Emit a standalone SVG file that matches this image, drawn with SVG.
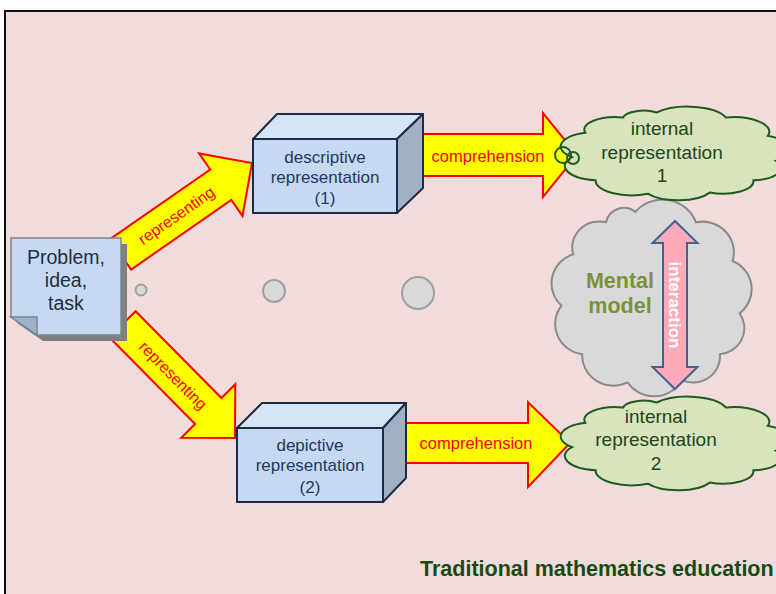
<svg xmlns="http://www.w3.org/2000/svg" xmlns:xlink="http://www.w3.org/1999/xlink" width="776" height="594" viewBox="0 0 776 594">
  <style>
    .bg { fill: #f2dcdb; stroke: #111; stroke-width: 2; }
    .dot { fill: #d9d9d9; stroke: #a0a0a0; stroke-width: 2; }
    .fat-arrow { fill: #ffff00; stroke: #ff0000; stroke-width: 2; stroke-linejoin: miter; }
    .arrow-label { font-family: "Liberation Sans", Arial, sans-serif; fill: #ff0000; text-anchor: middle; }
    .box-front { fill: #c6d9f1; stroke: #1b2c48; stroke-width: 2; stroke-linejoin: round; }
    .box-top { fill: #d5e3f6; stroke: #1b2c48; stroke-width: 2; stroke-linejoin: round; }
    .box-side { fill: #a2b0c4; stroke: #1b2c48; stroke-width: 2; stroke-linejoin: round; }
    .box-text { font-family: "Liberation Sans", Arial, sans-serif; font-size: 17px; fill: #1f3864; text-anchor: middle; }
    .note { fill: #c6d9f1; stroke: #7a8599; stroke-width: 1.5; }
    .note-shadow { fill: #7f7f7f; }
    .note-flap { fill: #a0b2ca; stroke: #7a8599; stroke-width: 1.5; }
    .note-text { font-family: "Liberation Sans", Arial, sans-serif; font-size: 19.5px; fill: #1f2d45; text-anchor: middle; }
    .cloud-green { fill: #d7e4bd; stroke: #1f5a1f; }
    .cloud-gray { fill: #d9d9d9; stroke: #8a8a8a; }
    .cloud-text { font-family: "Liberation Sans", Arial, sans-serif; font-size: 19px; fill: #1e4620; text-anchor: middle; }
    .model-text { font-family: "Liberation Sans", Arial, sans-serif; font-size: 21.5px; font-weight: bold; fill: #77933c; text-anchor: middle; }
    .interaction { fill: #ffaabb; stroke: #3d6390; stroke-width: 2; stroke-linejoin: miter; }
    .interaction-text { font-family: "Liberation Sans", Arial, sans-serif; font-size: 17px; font-weight: bold; fill: #ffffff; text-anchor: middle; }
    .title { font-family: "Liberation Sans", Arial, sans-serif; font-size: 21.5px; font-weight: bold; fill: #174a17; }
  </style>
  <defs>
    <!-- generic cloud outline in a 100x100 box -->
    <path id="cloud" vector-effect="non-scaling-stroke" stroke-width="2"
          d="M42.7,8.6 A16.6,16.6 0 0 1 71,13.6 A14.7,14.7 0 0 1 88.1,32.2 A14.7,14.7 0 0 1 91.4,57.3 A12.6,12.6 0 0 1 82.2,77 A12.6,12.6 0 0 1 64.4,89.5 A14.7,14.7 0 0 1 39.1,90.6 A14.7,14.7 0 0 1 17.8,77 A14.6,14.6 0 0 1 8.2,53.7 A14.7,14.7 0 0 1 13.6,29 A12.6,12.6 0 0 1 29,13.6 A8.5,8.5 0 0 1 42.7,8.6 Z"/>
    <polygon id="fat" points="-160,-18.5 -38,-18.5 -38,-38 0,0 -38,38 -38,18.5 -160,18.5"/>
  </defs>

  <!-- slide background and frame -->
  <rect x="0" y="0" width="776" height="594" fill="#ffffff"/>
  <rect class="bg" x="5" y="11" width="800" height="600"/>

  <!-- decorative bubbles -->
  <g id="bubbles">
    <circle class="dot" cx="141" cy="290" r="5.5"/>
    <circle class="dot" cx="274" cy="291" r="11"/>
    <circle class="dot" cx="418" cy="293" r="16"/>
  </g>

  <!-- connectors -->
  <g id="connectors">
    <g id="arrow-representing-1" transform="translate(252,163) rotate(-34.8)">
      <use xlink:href="#fat" class="fat-arrow"/>
      <text class="arrow-label" x="-92" y="5.5" font-size="16">representing</text>
    </g>
    <g id="arrow-representing-2" transform="translate(235,438) rotate(45.3)">
      <use xlink:href="#fat" class="fat-arrow"/>
      <text class="arrow-label" x="-88" y="5.5" font-size="16">representing</text>
    </g>
    <g id="arrow-comprehension-1">
      <path class="fat-arrow" d="M418,134 H543 V113 L577,155 L543,197 V176 H418 Z"/>
      <text class="arrow-label" x="488" y="162" font-size="16.5">comprehension</text>
    </g>
    <g id="arrow-comprehension-2">
      <path class="fat-arrow" d="M402,423 H528 V402 L570,443 L528,487 V463 H402 Z"/>
      <text class="arrow-label" x="476" y="449" font-size="16.5">comprehension</text>
    </g>
  </g>

  <!-- problem note with folded corner -->
  <g id="problem">
    <path class="note-shadow" d="M17,244 H127 V341 H43 L17,323 Z"/>
    <path class="note" d="M11,238 H121 V335 H37 L11,317 Z"/>
    <path class="note-flap" d="M11,317 L37,317 L37,335 Z"/>
    <text class="note-text" x="66" y="264">Problem,</text>
    <text class="note-text" x="66" y="287">idea,</text>
    <text class="note-text" x="66" y="310">task</text>
  </g>

  <!-- descriptive representation block -->
  <g id="descriptive">
    <path class="box-top" d="M253,139 L277,114 H423 L397,139 Z"/>
    <path class="box-side" d="M397,139 L423,114 V188 L397,213 Z"/>
    <rect class="box-front" x="253" y="139" width="144" height="74"/>
    <text class="box-text" x="325" y="163">descriptive</text>
    <text class="box-text" x="325" y="183">representation</text>
    <text class="box-text" x="325" y="204">(1)</text>
  </g>

  <!-- depictive representation block -->
  <g id="depictive">
    <path class="box-top" d="M237,428 L262,403 H406 L383,428 Z"/>
    <path class="box-side" d="M383,428 L406,403 V478 L383,502 Z"/>
    <rect class="box-front" x="237" y="428" width="146" height="74"/>
    <text class="box-text" x="310" y="451">depictive</text>
    <text class="box-text" x="310" y="471">representation</text>
    <text class="box-text" x="310" y="493">(2)</text>
  </g>

  <!-- mental model cloud with interaction arrow -->
  <g id="mental-model">
    <use xlink:href="#cloud" class="cloud-gray" transform="translate(544,194) scale(2.14,2.08)"/>
    <text class="model-text" x="620" y="287.5">Mental</text>
    <text class="model-text" x="620" y="312.5">model</text>
    <path class="interaction" d="M675,221 L697.5,243 H687 V367 H697.5 L675,389 L652.5,367 H663 V243 H652.5 Z"/>
    <text class="interaction-text" transform="translate(675,305) rotate(90)" y="6">interaction</text>
  </g>

  <!-- internal representation 1 -->
  <g id="internal-1">
    <use xlink:href="#cloud" class="cloud-green" transform="translate(552,104) scale(2.45,0.99)"/>
    <circle cx="563" cy="155" r="8" fill="none" stroke="#1f5a1f" stroke-width="2"/>
    <circle cx="573" cy="158" r="6" fill="none" stroke="#1f5a1f" stroke-width="2"/>
    <text class="cloud-text" x="662" y="135">internal</text>
    <text class="cloud-text" x="662" y="159">representation</text>
    <text class="cloud-text" x="662" y="182">1</text>
  </g>

  <!-- internal representation 2 -->
  <g id="internal-2">
    <use xlink:href="#cloud" class="cloud-green" transform="translate(552,394) scale(2.45,0.99)"/>
    <text class="cloud-text" x="656" y="423">internal</text>
    <text class="cloud-text" x="656" y="446">representation</text>
    <text class="cloud-text" x="656" y="470">2</text>
  </g>

  <text class="title" x="420" y="576">Traditional mathematics education</text>
</svg>
